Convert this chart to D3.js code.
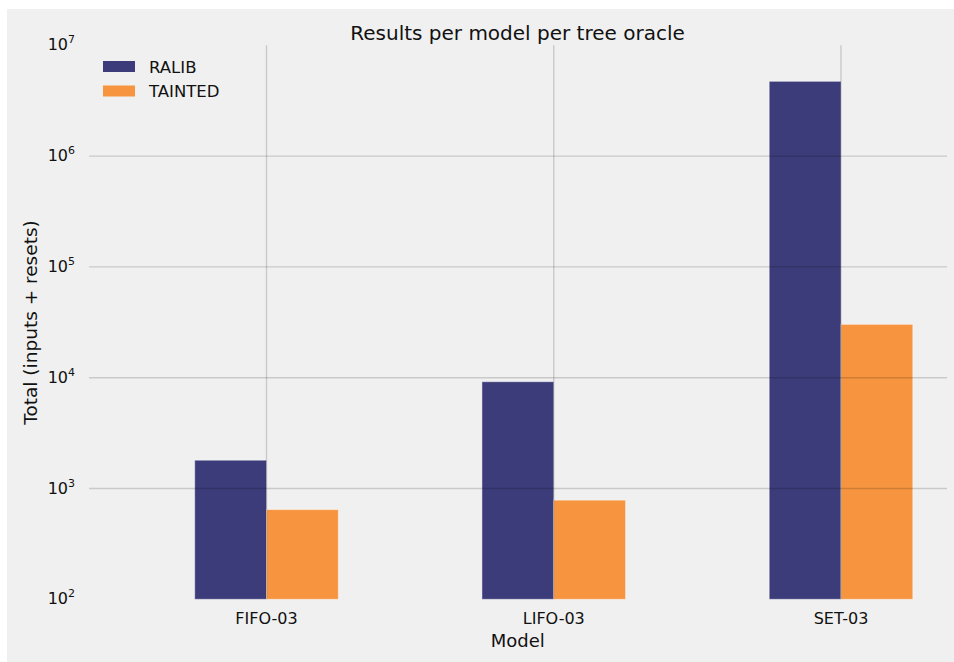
<!DOCTYPE html>
<html>
<head>
    <script src="https://cdnjs.cloudflare.com/ajax/libs/d3/7.8.5/d3.min.js"></script>
    <style>
        body { margin: 0; background: #fff; }
        svg { display: block; font-family: "DejaVu Sans", sans-serif; }
        .tick-label { font-size: 16px; fill: #111; }
        .legend-label { font-size: 16.5px; fill: #111; }
        .axis-label { font-size: 18px; fill: #111; }
        .title { font-size: 20px; fill: #111; }
    </style>
</head>
<body>
    <svg width="954" height="662"></svg>
    <script>
        // Data
        const models = ["FIFO-03", "LIFO-03", "SET-03"];
        const series = ["RALIB", "TAINTED"];
        const ralib = [1800, 9200, 4730000];
        const tainted = [645, 785, 30300];
        const yTickExps = [2, 3, 4, 5, 6, 7];
        const colors = ["#3c3c7a", "#f7943f"];

        const values = [ralib, tainted];

        const svg = d3.select("svg");

        // figure background
        svg.append("rect")
            .attr("x", 7).attr("y", 9)
            .attr("width", 947).attr("height", 653)
            .attr("fill", "#f0f0f0");

        // scales
        const plotL = 89, plotR = 947, plotT = 45.3, plotB = 599.3;
        const x = d3.scaleLinear().domain([-0.618, 2.369]).range([plotL, plotR]);
        const y = d3.scaleLog().domain([1e2, 1e7]).range([plotB, plotT]);
        const barW = x(0.25) - x(0);

        // bars
        series.forEach((s, si) => {
            svg.append("g")
                .selectAll("rect")
                .data(values[si])
                .join("rect")
                .attr("x", (d, i) => si === 0 ? x(i) - barW : x(i))
                .attr("y", d => y(d))
                .attr("width", barW)
                .attr("height", d => plotB - y(d))
                .attr("fill", colors[si])
                .attr("stroke", "#ffffff")
                .attr("stroke-opacity", 0.45)
                .attr("stroke-width", 1);
        });

        // grid (drawn on top, translucent)
        const grid = svg.append("g")
            .attr("stroke", "#000")
            .attr("stroke-opacity", 0.16)
            .attr("stroke-width", 1.4);
        grid.selectAll(".hg")
            .data(yTickExps.slice(1, -1))
            .join("line")
            .attr("x1", plotL).attr("x2", plotR)
            .attr("y1", e => y(Math.pow(10, e)))
            .attr("y2", e => y(Math.pow(10, e)));
        grid.selectAll(".vg")
            .data(models)
            .join("line")
            .attr("x1", (d, i) => x(i)).attr("x2", (d, i) => x(i))
            .attr("y1", plotT).attr("y2", plotB);

        // y tick labels
        const yt = svg.append("g").selectAll("text")
            .data(yTickExps)
            .join("text")
            .attr("class", "tick-label")
            .attr("x", 75)
            .attr("y", e => y(Math.pow(10, e)) + 5)
            .attr("text-anchor", "end");
        yt.append("tspan").text("10");
        yt.append("tspan")
            .attr("dy", -7)
            .attr("font-size", 11)
            .text(e => e);

        // x tick labels
        svg.append("g").selectAll("text")
            .data(models)
            .join("text")
            .attr("class", "tick-label")
            .attr("x", (d, i) => x(i))
            .attr("y", 624)
            .attr("text-anchor", "middle")
            .text(d => d);

        // axis labels and title
        svg.append("text")
            .attr("class", "axis-label")
            .attr("x", (x(0) + x(2)) / 2 - 36)
            .attr("y", 647)
            .attr("text-anchor", "middle")
            .text("Model");

        svg.append("text")
            .attr("class", "axis-label")
            .attr("font-size", 18.5)
            .style("font-size", "18.5px")
            .attr("transform", "translate(37,322.5) rotate(-90)")
            .attr("text-anchor", "middle")
            .text("Total (inputs + resets)");

        svg.append("text")
            .attr("class", "title")
            .attr("x", 517.5)
            .attr("y", 40)
            .attr("text-anchor", "middle")
            .text("Results per model per tree oracle");

        // legend
        const legend = svg.append("g").selectAll("g")
            .data(series)
            .join("g")
            .attr("transform", (d, i) => `translate(103,${61 + i * 24.5})`);
        legend.append("rect")
            .attr("width", 32).attr("height", 11)
            .attr("fill", (d, i) => colors[i]);
        legend.append("text")
            .attr("class", "legend-label")
            .attr("x", 46)
            .attr("y", 11.5)
            .text(d => d);
    </script>
</body>
</html>
